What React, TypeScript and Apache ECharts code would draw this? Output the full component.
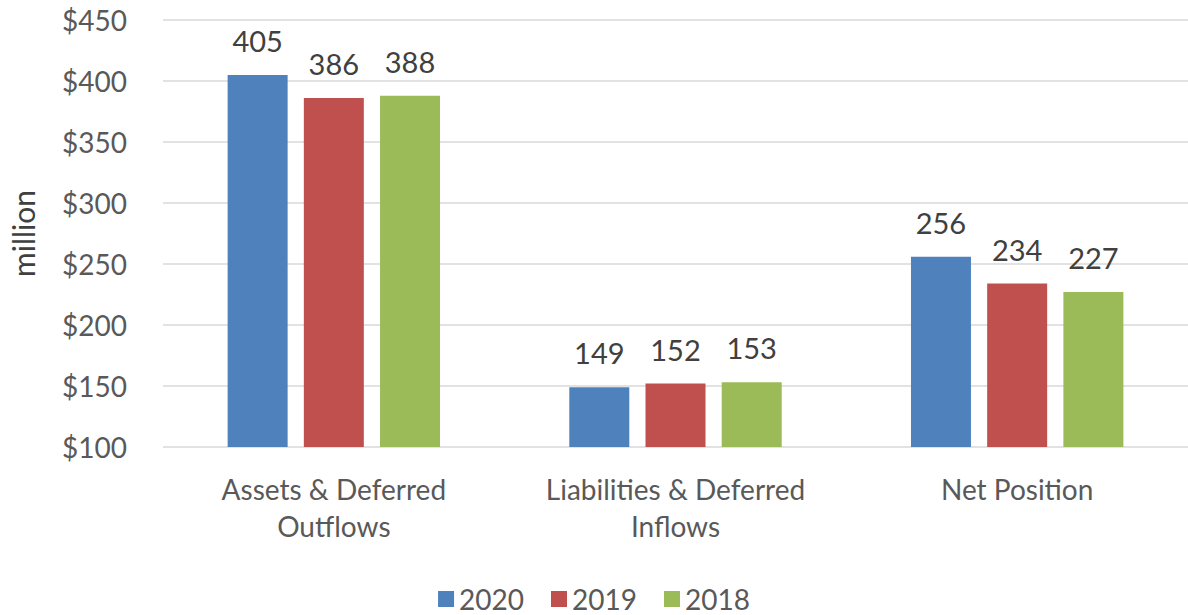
import React, { useEffect, useRef } from "react";
import * as echarts from "echarts";

const categories = ["Assets & Deferred\nOutflows", "Liabilities & Deferred\nInflows", "Net Position"];
const seriesNames = ["2020", "2019", "2018"];
const values2020 = [405, 149, 256];
const values2019 = [386, 152, 234];
const values2018 = [388, 153, 227];
const colors = ["#4f81bd", "#c0504d", "#9bbb59"];

const FONT = "Lato, 'Open Sans', sans-serif";

export default function App() {
  const ref = useRef<HTMLDivElement>(null);
  useEffect(() => {
    document.body.style.margin = "0";
    const chart = echarts.init(ref.current!, null, { renderer: "svg" });
    const data = [values2020, values2019, values2018];
    chart.setOption({
      animation: false,
      textStyle: { fontFamily: FONT },
      grid: { left: 163, right: 0, top: 20, bottom: 168, containLabel: false, outerBoundsMode: "none" },
      legend: {
        bottom: -3,
        left: "center",
        itemWidth: 16,
        itemHeight: 16,
        itemGap: 27,
        icon: "rect",
        textStyle: { fontSize: 28, color: "#595959", fontFamily: FONT },
        data: seriesNames,
      },
      xAxis: {
        type: "category",
        data: categories,
        axisLine: { show: false },
        axisTick: { show: false },
        axisLabel: { fontSize: 28, color: "#595959", lineHeight: 37, margin: 23, fontFamily: FONT },
      },
      yAxis: {
        type: "value",
        min: 100,
        max: 450,
        interval: 50,
        name: "million",
        nameLocation: "middle",
        nameGap: 125,
        nameTextStyle: { fontSize: 30, color: "#404040", fontFamily: FONT },
        axisLabel: { fontSize: 28, color: "#595959", margin: 36, formatter: (v: number) => "$" + v, fontFamily: FONT },
        splitLine: { lineStyle: { color: "#d9d9d9", width: 1.5 } },
      },
      series: seriesNames.map((n, i) => ({
        name: n,
        type: "bar",
        data: data[i],
        barWidth: 60,
        barGap: "27%",
        itemStyle: { color: colors[i] },
        label: {
          show: true,
          position: "top",
          distance: 20,
          fontSize: 29,
          color: "#404040",
          fontFamily: FONT,
        },
      })),
    });
    return () => chart.dispose();
  }, []);
  return <div ref={ref} style={{ width: 1188, height: 615 }} />;
}
